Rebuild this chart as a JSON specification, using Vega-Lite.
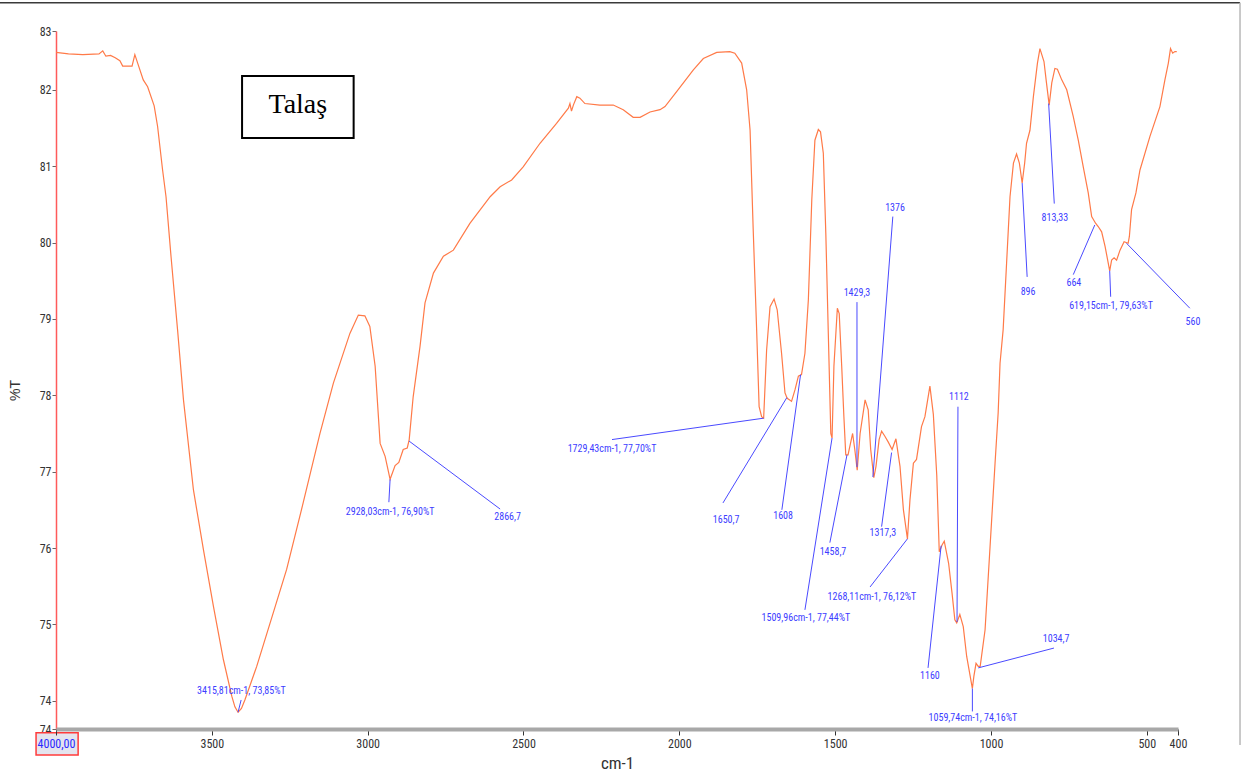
{
  "$schema": "https://vega.github.io/schema/vega-lite/v6.json",
  "width": 1122,
  "height": 698,
  "autosize": {"type": "none"},
  "padding": {"left": 56, "top": 31, "right": 66, "bottom": 49},
  "background": "white",
  "config": {"view": {"stroke": null}},
  "datasets": {
    "spectrum": [
      {"wn": 4000, "t": 82.49}, {"wn": 3960, "t": 82.47}, {"wn": 3914, "t": 82.46}, {"wn": 3862, "t": 82.47},
      {"wn": 3850, "t": 82.51}, {"wn": 3840, "t": 82.44}, {"wn": 3825, "t": 82.45}, {"wn": 3810, "t": 82.42},
      {"wn": 3795, "t": 82.38}, {"wn": 3786, "t": 82.31}, {"wn": 3756, "t": 82.31}, {"wn": 3747, "t": 82.46},
      {"wn": 3738, "t": 82.35}, {"wn": 3720, "t": 82.13}, {"wn": 3706, "t": 82.04}, {"wn": 3685, "t": 81.79},
      {"wn": 3674, "t": 81.52}, {"wn": 3658, "t": 80.95}, {"wn": 3647, "t": 80.6}, {"wn": 3631, "t": 79.82},
      {"wn": 3610, "t": 78.86}, {"wn": 3591, "t": 77.94}, {"wn": 3559, "t": 76.76}, {"wn": 3527, "t": 75.98},
      {"wn": 3495, "t": 75.24}, {"wn": 3463, "t": 74.54}, {"wn": 3436, "t": 74.06}, {"wn": 3426, "t": 73.92},
      {"wn": 3415.81, "t": 73.85}, {"wn": 3405, "t": 73.9},
      {"wn": 3394, "t": 74.01}, {"wn": 3356, "t": 74.45}, {"wn": 3303, "t": 75.15}, {"wn": 3260, "t": 75.72},
      {"wn": 3207, "t": 76.59}, {"wn": 3153, "t": 77.5}, {"wn": 3110, "t": 78.16}, {"wn": 3057, "t": 78.81},
      {"wn": 3030, "t": 79.05}, {"wn": 3009, "t": 79.04}, {"wn": 2993, "t": 78.9}, {"wn": 2976, "t": 78.38},
      {"wn": 2960, "t": 77.37}, {"wn": 2944, "t": 77.2}, {"wn": 2928.03, "t": 76.9}, {"wn": 2912, "t": 77.08},
      {"wn": 2900, "t": 77.12}, {"wn": 2886, "t": 77.29}, {"wn": 2873, "t": 77.31}, {"wn": 2866.7, "t": 77.42},
      {"wn": 2854, "t": 77.98}, {"wn": 2832, "t": 78.64}, {"wn": 2816, "t": 79.21}, {"wn": 2789, "t": 79.6},
      {"wn": 2757, "t": 79.82}, {"wn": 2725, "t": 79.9}, {"wn": 2672, "t": 80.25}, {"wn": 2607, "t": 80.6},
      {"wn": 2575, "t": 80.73}, {"wn": 2538, "t": 80.82}, {"wn": 2501, "t": 80.99}, {"wn": 2447, "t": 81.3},
      {"wn": 2394, "t": 81.56}, {"wn": 2356, "t": 81.76}, {"wn": 2351, "t": 81.82}, {"wn": 2346, "t": 81.72},
      {"wn": 2340, "t": 81.8}, {"wn": 2329, "t": 81.91}, {"wn": 2319, "t": 81.89}, {"wn": 2303, "t": 81.82},
      {"wn": 2255, "t": 81.8}, {"wn": 2212, "t": 81.8}, {"wn": 2180, "t": 81.74}, {"wn": 2148, "t": 81.64},
      {"wn": 2126, "t": 81.64}, {"wn": 2094, "t": 81.71}, {"wn": 2062, "t": 81.74}, {"wn": 2046, "t": 81.78},
      {"wn": 2008, "t": 81.98}, {"wn": 1955, "t": 82.26}, {"wn": 1923, "t": 82.41}, {"wn": 1880, "t": 82.49},
      {"wn": 1838, "t": 82.5}, {"wn": 1822, "t": 82.48}, {"wn": 1800, "t": 82.35}, {"wn": 1784, "t": 82.0},
      {"wn": 1773, "t": 81.47}, {"wn": 1763, "t": 80.17}, {"wn": 1752, "t": 78.86}, {"wn": 1744, "t": 77.85},
      {"wn": 1736, "t": 77.72}, {"wn": 1729.43, "t": 77.7}, {"wn": 1720, "t": 78.59}, {"wn": 1709, "t": 79.16},
      {"wn": 1696, "t": 79.26}, {"wn": 1686, "t": 79.12}, {"wn": 1672, "t": 78.55}, {"wn": 1661, "t": 78.03},
      {"wn": 1654, "t": 77.96}, {"wn": 1647, "t": 77.94}, {"wn": 1640, "t": 77.92}, {"wn": 1629, "t": 78.07},
      {"wn": 1618, "t": 78.25}, {"wn": 1608, "t": 78.27}, {"wn": 1597, "t": 78.55}, {"wn": 1586, "t": 79.25},
      {"wn": 1575, "t": 80.56}, {"wn": 1565, "t": 81.34}, {"wn": 1554, "t": 81.48}, {"wn": 1547, "t": 81.45},
      {"wn": 1538, "t": 81.17}, {"wn": 1530, "t": 80.12}, {"wn": 1522, "t": 78.81}, {"wn": 1514, "t": 77.5},
      {"wn": 1509.96, "t": 77.44}, {"wn": 1504, "t": 78.38}, {"wn": 1493, "t": 79.14}, {"wn": 1487, "t": 79.07},
      {"wn": 1479, "t": 78.38}, {"wn": 1472, "t": 77.72}, {"wn": 1466, "t": 77.22}, {"wn": 1458.7, "t": 77.22},
      {"wn": 1444, "t": 77.5}, {"wn": 1437, "t": 77.29}, {"wn": 1429.3, "t": 77.02}, {"wn": 1420, "t": 77.5},
      {"wn": 1404, "t": 77.94}, {"wn": 1394, "t": 77.81}, {"wn": 1386, "t": 77.29}, {"wn": 1376, "t": 76.92},
      {"wn": 1369, "t": 77.07}, {"wn": 1359, "t": 77.42}, {"wn": 1351, "t": 77.53}, {"wn": 1340, "t": 77.46},
      {"wn": 1330, "t": 77.39}, {"wn": 1317.3, "t": 77.29}, {"wn": 1305, "t": 77.43}, {"wn": 1292, "t": 77.07},
      {"wn": 1281, "t": 76.5}, {"wn": 1268.11, "t": 76.12}, {"wn": 1260, "t": 76.63}, {"wn": 1249, "t": 77.11},
      {"wn": 1239, "t": 77.16}, {"wn": 1223, "t": 77.59}, {"wn": 1212, "t": 77.72}, {"wn": 1196, "t": 78.12},
      {"wn": 1185, "t": 77.75}, {"wn": 1174, "t": 76.95}, {"wn": 1166, "t": 75.95}, {"wn": 1157, "t": 76.04},
      {"wn": 1150, "t": 76.09}, {"wn": 1136, "t": 75.8}, {"wn": 1125, "t": 75.41}, {"wn": 1116, "t": 75.06},
      {"wn": 1110, "t": 75.02}, {"wn": 1100, "t": 75.13}, {"wn": 1089, "t": 74.97}, {"wn": 1078, "t": 74.58},
      {"wn": 1059.74, "t": 74.16}, {"wn": 1055, "t": 74.32}, {"wn": 1048, "t": 74.49}, {"wn": 1041, "t": 74.45},
      {"wn": 1034.7, "t": 74.45}, {"wn": 1019, "t": 74.93}, {"wn": 1003, "t": 76.02}, {"wn": 987, "t": 77.11},
      {"wn": 977, "t": 77.77}, {"wn": 971, "t": 78.42}, {"wn": 961, "t": 78.86}, {"wn": 950, "t": 79.73},
      {"wn": 939, "t": 80.6}, {"wn": 928, "t": 81.04}, {"wn": 918, "t": 81.16}, {"wn": 909, "t": 81.04},
      {"wn": 900, "t": 80.78}, {"wn": 892, "t": 81.04}, {"wn": 886, "t": 81.3}, {"wn": 875, "t": 81.47},
      {"wn": 864, "t": 81.91}, {"wn": 851, "t": 82.35}, {"wn": 843, "t": 82.54}, {"wn": 837, "t": 82.46},
      {"wn": 830, "t": 82.37}, {"wn": 822, "t": 82.09}, {"wn": 813.33, "t": 81.8}, {"wn": 805, "t": 82.09},
      {"wn": 795, "t": 82.28}, {"wn": 787, "t": 82.27}, {"wn": 773, "t": 82.13}, {"wn": 757, "t": 82.0},
      {"wn": 736, "t": 81.65}, {"wn": 720, "t": 81.34}, {"wn": 704, "t": 80.99}, {"wn": 688, "t": 80.65},
      {"wn": 677, "t": 80.34}, {"wn": 664, "t": 80.25}, {"wn": 656, "t": 80.21}, {"wn": 645, "t": 80.14},
      {"wn": 634, "t": 79.95}, {"wn": 619.15, "t": 79.63}, {"wn": 613, "t": 79.77}, {"wn": 605, "t": 79.8},
      {"wn": 597, "t": 79.77}, {"wn": 586, "t": 79.9}, {"wn": 573, "t": 80.01}, {"wn": 560, "t": 79.99},
      {"wn": 556, "t": 80.08}, {"wn": 549, "t": 80.43}, {"wn": 535, "t": 80.65}, {"wn": 522, "t": 80.95},
      {"wn": 490, "t": 81.39}, {"wn": 458, "t": 81.78}, {"wn": 442, "t": 82.13}, {"wn": 431, "t": 82.35},
      {"wn": 424, "t": 82.54}, {"wn": 417, "t": 82.48}, {"wn": 410, "t": 82.5}, {"wn": 404, "t": 82.5}
    ],
    "ann": [
      {"label": "3415,81cm-1, 73,85%T", "x1": 3415.81, "y1": 73.85, "x2": 3406, "y2": 74.01, "lx": 3405, "ly": 74.13},
      {"label": "2928,03cm-1, 76,90%T", "x1": 2928.03, "y1": 76.9, "x2": 2932, "y2": 76.6, "lx": 2928, "ly": 76.47},
      {"label": "2866,7", "x1": 2867, "y1": 77.4, "x2": 2575, "y2": 76.51, "lx": 2551, "ly": 76.4},
      {"label": "1729,43cm-1, 77,70%T", "x1": 1729.43, "y1": 77.7, "x2": 2216, "y2": 77.42, "lx": 2216, "ly": 77.29},
      {"label": "1650,7", "x1": 1655, "y1": 77.97, "x2": 1860, "y2": 76.59, "lx": 1850, "ly": 76.37},
      {"label": "1608", "x1": 1611, "y1": 78.27, "x2": 1671, "y2": 76.5, "lx": 1667, "ly": 76.42},
      {"label": "1509,96cm-1, 77,44%T", "x1": 1509.96, "y1": 77.44, "x2": 1597, "y2": 75.19, "lx": 1594, "ly": 75.09},
      {"label": "1458,7", "x1": 1462, "y1": 77.22, "x2": 1517, "y2": 76.07, "lx": 1507, "ly": 75.95},
      {"label": "1429,3", "x1": 1430, "y1": 77.06, "x2": 1430, "y2": 79.22, "lx": 1430, "ly": 79.34},
      {"label": "1376", "x1": 1379, "y1": 76.93, "x2": 1315, "y2": 80.34, "lx": 1308, "ly": 80.45},
      {"label": "1317,3", "x1": 1319, "y1": 77.25, "x2": 1351, "y2": 76.28, "lx": 1347, "ly": 76.2},
      {"label": "1268,11cm-1, 76,12%T", "x1": 1268.11, "y1": 76.12, "x2": 1388, "y2": 75.49, "lx": 1382, "ly": 75.36},
      {"label": "1160", "x1": 1160, "y1": 76.03, "x2": 1202, "y2": 74.43, "lx": 1196, "ly": 74.32},
      {"label": "1112", "x1": 1109, "y1": 75.03, "x2": 1106, "y2": 77.85, "lx": 1103, "ly": 77.98},
      {"label": "1059,74cm-1, 74,16%T", "x1": 1059.74, "y1": 74.16, "x2": 1059.74, "y2": 73.86, "lx": 1058, "ly": 73.77},
      {"label": "1034,7", "x1": 1041, "y1": 74.43, "x2": 798, "y2": 74.69, "lx": 791, "ly": 74.81},
      {"label": "896", "x1": 900, "y1": 80.78, "x2": 884, "y2": 79.55, "lx": 881, "ly": 79.35},
      {"label": "813,33", "x1": 815, "y1": 81.82, "x2": 797, "y2": 80.51, "lx": 795, "ly": 80.32},
      {"label": "664", "x1": 667, "y1": 80.23, "x2": 736, "y2": 79.58, "lx": 734, "ly": 79.47},
      {"label": "619,15cm-1, 79,63%T", "x1": 619.15, "y1": 79.63, "x2": 616, "y2": 79.29, "lx": 615, "ly": 79.17},
      {"label": "560", "x1": 565, "y1": 79.99, "x2": 362, "y2": 79.14, "lx": 352, "ly": 78.96}
    ]
  },
  "layer": [
    {
      "data": {"name": "spectrum"},
      "mark": {"type": "line", "color": "#ff7a48", "strokeWidth": 1.2, "interpolate": "linear"},
      "encoding": {
        "x": {
          "field": "wn", "type": "quantitative",
          "scale": {"domain": [4000, 400], "nice": false, "zero": false},
          "axis": {
            "values": [4000, 3500, 3000, 2500, 2000, 1500, 1000, 500, 400],
            "format": "d",
            "labelExpr": "datum.value == 4000 ? '4000,00' : datum.label",
            "labelColor": {"condition": {"test": "datum.value == 4000", "value": "#2a2aff"}, "value": "#333333"},
            "labelFont": "Liberation Sans Narrow, Arial Narrow, Roboto Condensed, Liberation Sans, sans-serif",
            "labelFontSize": 12,
            "labelPadding": 3,
            "labelFlush": false,
            "labelOverlap": false,
            "tickSize": 6,
            "tickColor": "#333333",
            "domainColor": "#a8a8a8",
            "domainWidth": 4,
            "grid": false,
            "zindex": 1,
            "title": "cm-1",
            "titleFont": "Liberation Sans Narrow, Arial Narrow, Roboto Condensed, Liberation Sans, sans-serif",
            "titleFontSize": 17,
            "titleFontWeight": "normal",
            "titleColor": "#333333",
            "titlePadding": 6
          }
        },
        "y": {
          "field": "t", "type": "quantitative",
          "scale": {"domain": [73.63, 82.77], "nice": false, "zero": false},
          "axis": {
            "values": [73.63, 74, 75, 76, 77, 78, 79, 80, 81, 82, 82.77],
            "labelExpr": "format(datum.value, '.0f')",
            "labelFont": "Liberation Sans Narrow, Arial Narrow, Roboto Condensed, Liberation Sans, sans-serif",
            "labelFontSize": 12,
            "labelColor": "#333333",
            "labelPadding": 1,
            "labelOverlap": false,
            "labelFlush": false,
            "tickSize": 4,
            "tickColor": "#666666",
            "domainColor": "#ff5a5a",
            "domainWidth": 1.5,
            "grid": false,
            "title": "%T",
            "titleFont": "Liberation Sans, sans-serif",
            "titleFontSize": 14,
            "titleFontWeight": "normal",
            "titleColor": "#333333",
            "titleAngle": -90,
            "titleX": -41,
            "titleY": 359,
            "titleBaseline": "middle",
            "titleAlign": "center"
          }
        }
      }
    },
    {
      "data": {"values": [{"x1": 4180, "x2": 201, "y1": 83.14, "y2": 83.14}]},
      "mark": {"type": "rule", "color": "#3a3a3a", "strokeWidth": 1.5, "clip": false},
      "encoding": {
        "x": {"field": "x1", "type": "quantitative"},
        "x2": {"field": "x2"},
        "y": {"field": "y1", "type": "quantitative"},
        "y2": {"field": "y2"}
      }
    },
    {
      "data": {"values": [{"x1": 201, "x2": 201, "y1": 83.14, "y2": 73.42}]},
      "mark": {"type": "rule", "color": "#b8b8b8", "strokeWidth": 1.5, "clip": false},
      "encoding": {
        "x": {"field": "x1", "type": "quantitative"},
        "x2": {"field": "x2"},
        "y": {"field": "y1", "type": "quantitative"},
        "y2": {"field": "y2"}
      }
    },
    {
      "data": {"values": [{"x1": 4064, "x2": 3929, "y1": 73.58, "y2": 73.29}]},
      "mark": {"type": "rect", "fill": "#e4e4ee", "stroke": "#ff3b3b", "strokeWidth": 1.5, "clip": false},
      "encoding": {
        "x": {"field": "x1", "type": "quantitative"},
        "x2": {"field": "x2"},
        "y": {"field": "y1", "type": "quantitative"},
        "y2": {"field": "y2"}
      }
    },
    {
      "data": {"name": "ann"},
      "mark": {"type": "rule", "color": "#4a4aff", "strokeWidth": 1, "clip": false},
      "encoding": {
        "x": {"field": "x1", "type": "quantitative"},
        "x2": {"field": "x2"},
        "y": {"field": "y1", "type": "quantitative"},
        "y2": {"field": "y2"}
      }
    },
    {
      "data": {"name": "ann"},
      "mark": {"type": "text", "color": "#3d3dff", "fontSize": 10, "font": "Liberation Sans Narrow, Arial Narrow, Roboto Condensed, Liberation Sans, sans-serif", "align": "center", "baseline": "middle", "clip": false},
      "encoding": {
        "x": {"field": "lx", "type": "quantitative"},
        "y": {"field": "ly", "type": "quantitative"},
        "text": {"field": "label"}
      }
    },
    {
      "data": {"values": [{"x1": 3403, "x2": 3045, "y1": 82.18, "y2": 81.37}]},
      "mark": {"type": "rect", "fill": "white", "stroke": "black", "strokeWidth": 2},
      "encoding": {
        "x": {"field": "x1", "type": "quantitative"},
        "x2": {"field": "x2"},
        "y": {"field": "y1", "type": "quantitative"},
        "y2": {"field": "y2"}
      }
    },
    {
      "data": {"values": [{"x": 3224, "y": 81.69, "label": "Talaş"}]},
      "mark": {"type": "text", "color": "black", "fontSize": 28, "font": "Liberation Serif, Times New Roman, serif", "align": "center", "baseline": "alphabetic"},
      "encoding": {
        "x": {"field": "x", "type": "quantitative"},
        "y": {"field": "y", "type": "quantitative"},
        "text": {"field": "label"}
      }
    }
  ]
}
